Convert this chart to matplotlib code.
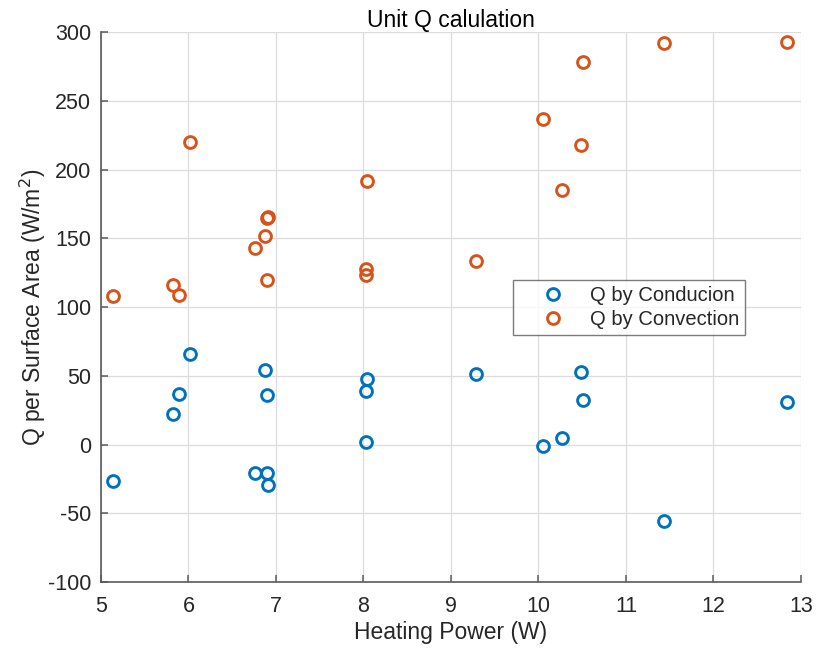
import numpy as np
import matplotlib.pyplot as plt

plt.rcParams['font.family'] = ['Liberation Sans', 'DejaVu Sans']
plt.rcParams['axes.unicode_minus'] = False

# heating power (W) for each measurement
power_cond = [5.14, 5.82, 5.895, 6.017, 6.874, 6.893, 6.76, 6.893, 6.905, 8.036,
              8.025, 8.025, 9.29, 10.49, 10.51, 10.27, 10.05, 11.43, 12.836]
q_cond = [-26.8, 22, 36.7, 66, 54.2, 36, -20.5, -20.5, -29.7, 47.4,
          38.7, 2, 51, 52.7, 32.4, 4.7, -1.1, -55.9, 30.7]

power_conv = [5.137, 5.82, 5.895, 6.017, 6.76, 6.874, 6.893, 6.91, 6.893, 8.036,
              8.03, 8.025, 9.29, 10.05, 10.27, 10.49, 10.51, 11.43, 12.836]
q_conv = [108, 116, 109, 219.8, 143, 152, 165, 165.5, 119.6, 192,
          128, 123, 133.5, 236.7, 185, 217.6, 278.4, 292.2, 293]

text_col = '#262626'

fig = plt.figure(figsize=(8.19, 6.54), dpi=100)
ax = fig.add_axes([0.1233, 0.110, 0.8547, 0.841])

ax.plot(power_cond, q_cond, 'o', mfc='none', mec='#0072BD', ms=8.5, mew=2.1,
        label='Q by Conducion', zorder=3)
ax.plot(power_conv, q_conv, 'o', mfc='none', mec='#D95319', ms=8.5, mew=2.1,
        label='Q by Convection', zorder=3)

ax.set_xlim(5, 13)
ax.set_ylim(-100, 300)
ax.set_xticks(np.arange(5, 14, 1))
ax.set_yticks(np.arange(-100, 301, 50))

#matlab look: grid, no box
ax.grid(True, color='#dcdcdc', linewidth=0.9)
ax.set_axisbelow(True)
for side in ['top', 'right']:
    ax.spines[side].set_visible(False)
for side in ['left', 'bottom']:
    ax.spines[side].set_color('#5a5a5a')
    ax.spines[side].set_linewidth(1.2)
ax.tick_params(direction='in', length=5, width=1.1, color='#5a5a5a',
               labelcolor=text_col, labelsize=15.5)
ax.tick_params(axis='x', pad=10)
ax.tick_params(axis='y', pad=7)

ax.set_xlabel('Heating Power (W)', fontsize=16.5, color=text_col, labelpad=3)
ax.set_ylabel('Q per Surface Area (W/m$^2$)', fontsize=16.5, color=text_col, labelpad=0)
ax.set_title('Unit Q calulation', fontsize=16.5, color='black', pad=2)

leg = ax.legend(loc='upper left', bbox_to_anchor=(0.589, 0.549), fontsize=14.5,
                frameon=True, fancybox=False, edgecolor='#5a5a5a',
                handlelength=3.3, handletextpad=0.2, borderpad=0.3,
                labelspacing=0.25, borderaxespad=0)
leg.get_frame().set_linewidth(1.0)
for t in leg.get_texts():
    t.set_color(text_col)

fig.savefig('out.png', dpi=100)
